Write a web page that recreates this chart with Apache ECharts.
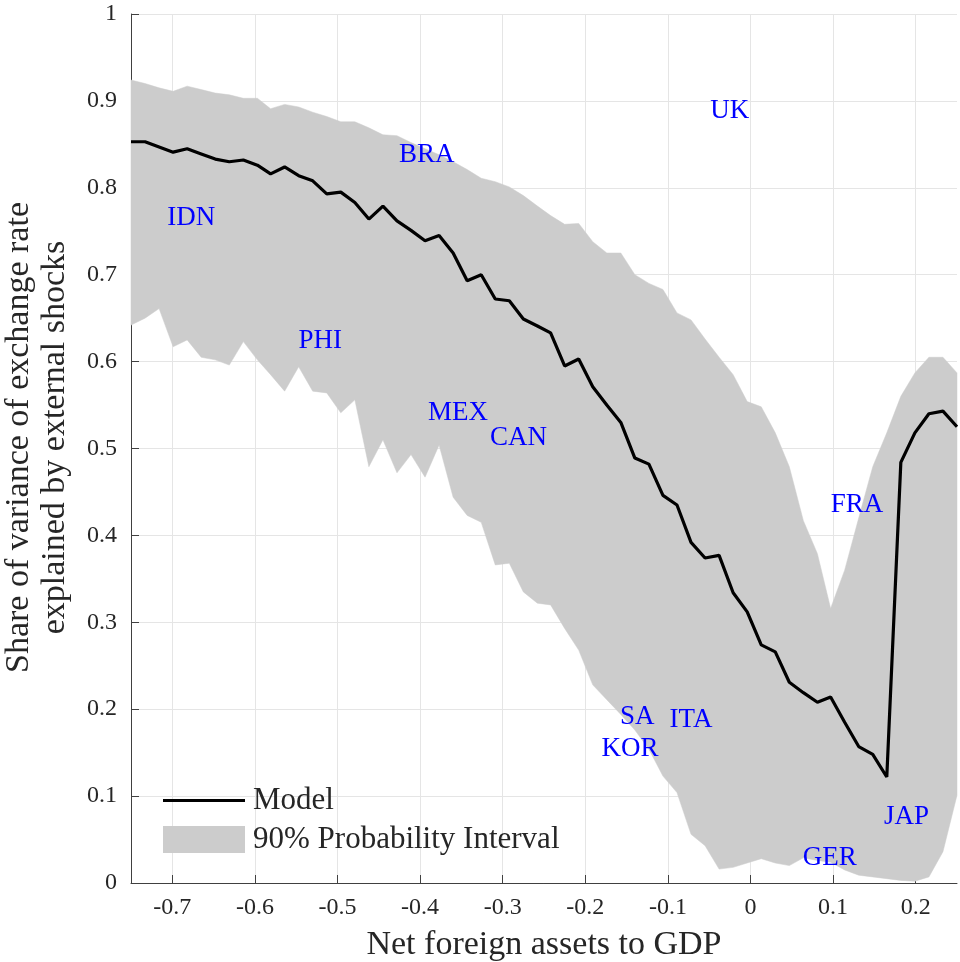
<!DOCTYPE html>
<html>
<head>
<meta charset="utf-8">
<script src="https://cdn.jsdelivr.net/npm/echarts@6/dist/echarts.min.js"></script>
<style>html,body{margin:0;padding:0;background:#fff;}#c{width:960px;height:962px;}</style>
</head>
<body>
<div id="c"></div>
<script>
// Net foreign assets to GDP (x positions of the estimates)
var nfa = [-0.750,-0.733,-0.716,-0.699,-0.682,-0.665,-0.648,-0.631,-0.614,-0.597,
           -0.581,-0.564,-0.547,-0.530,-0.513,-0.496,-0.479,-0.462,-0.445,-0.428,
           -0.411,-0.394,-0.377,-0.360,-0.343,-0.326,-0.309,-0.292,-0.275,-0.258,
           -0.242,-0.225,-0.208,-0.191,-0.174,-0.157,-0.140,-0.123,-0.106,-0.089,
           -0.072,-0.055,-0.038,-0.021,-0.004,0.013,0.030,0.047,0.064,0.081,
           0.097,0.114,0.131,0.148,0.165,0.182,0.199,0.216,0.233,0.250];
// Model share
var model = [0.853,0.853,0.847,0.841,0.845,0.839,0.833,0.830,0.832,0.826,
             0.816,0.824,0.814,0.808,0.793,0.795,0.783,0.764,0.779,0.762,
             0.751,0.739,0.745,0.725,0.693,0.700,0.672,0.670,0.649,0.641,
             0.633,0.595,0.603,0.571,0.550,0.530,0.489,0.482,0.446,0.435,
             0.392,0.374,0.377,0.334,0.312,0.274,0.266,0.231,0.219,0.208,
             0.214,0.185,0.157,0.148,0.122,0.484,0.518,0.540,0.543,0.525];
// 90% probability interval, upper bound
var upper = [0.924,0.920,0.915,0.911,0.917,0.913,0.909,0.907,0.903,0.903,
             0.891,0.896,0.893,0.887,0.882,0.876,0.876,0.869,0.861,0.860,
             0.852,0.845,0.838,0.830,0.821,0.811,0.807,0.801,0.791,0.779,
             0.768,0.758,0.759,0.738,0.725,0.725,0.700,0.690,0.683,0.656,
             0.648,0.626,0.605,0.585,0.554,0.548,0.518,0.479,0.417,0.379,
             0.316,0.360,0.420,0.479,0.518,0.560,0.587,0.605,0.605,0.587];
// 90% probability interval, lower bound
var lower = [0.642,0.650,0.661,0.617,0.625,0.605,0.602,0.596,0.623,0.602,
             0.585,0.566,0.594,0.566,0.564,0.541,0.556,0.479,0.510,0.472,
             0.493,0.467,0.504,0.444,0.423,0.415,0.366,0.368,0.335,0.322,
             0.320,0.293,0.268,0.228,0.211,0.194,0.176,0.154,0.123,0.104,
             0.056,0.043,0.016,0.018,0.023,0.028,0.023,0.020,0.029,0.026,
             0.024,0.015,0.009,0.007,0.005,0.003,0.002,0.007,0.036,0.101];
// Country labels
var countries = ['UK','BRA','IDN','PHI','MEX','CAN','FRA','SA','ITA','KOR','JAP','GER'];
var countryX  = [-0.025,-0.392,-0.677,-0.521,-0.354,-0.281,0.129,-0.137,-0.072,-0.146,0.189,0.096];
var countryY  = [0.889,0.838,0.765,0.624,0.541,0.512,0.435,0.191,0.188,0.154,0.076,0.029];
// Axis ticks
var xTicks = [-0.7,-0.6,-0.5,-0.4,-0.3,-0.2,-0.1,0,0.1,0.2];
var yTicks = [0,0.1,0.2,0.3,0.4,0.5,0.6,0.7,0.8,0.9,1];

var FONT = '"Liberation Serif", "Times New Roman", serif';
var TXT = '#262626';

var modelData = nfa.map(function(x,i){return [x, model[i]];});
var bandData = nfa.map(function(x,i){return [x, lower[i], upper[i]];});
var labelData = countries.map(function(n,i){return {name:n, value:[countryX[i], countryY[i]]};});

function fmt(v){
  var r = Math.round(v*10)/10;
  if (r === 0) return '0';
  if (r === 1) return '1';
  return r.toFixed(1);
}

var chart = echarts.init(document.getElementById('c'), null, {renderer:'canvas'});
chart.setOption({
  animation: false,
  backgroundColor: '#ffffff',
  grid: {left:131, right:3, top:14, bottom:79, containLabel:false, outerBoundsMode:'none'},
  xAxis: {
    type: 'value', min: -0.75, max: 0.25,
    customValues: xTicks,
    axisLine: {show:true, onZero:false, lineStyle:{color:'#404040', width:1}},
    axisTick: {show:true, inside:true, length:8, lineStyle:{color:'#404040'}, customValues: xTicks},
    axisLabel: {color:TXT, fontFamily:FONT, fontSize:24, margin:13, formatter: fmt, customValues: xTicks, showMinLabel:true, showMaxLabel:true},
    splitLine: {show:true, lineStyle:{color:'#e5e5e5', width:1}},
    name: 'Net foreign assets to GDP',
    nameLocation: 'middle', nameGap: 45,
    nameTextStyle: {color:TXT, fontFamily:FONT, fontSize:34}
  },
  yAxis: {
    type: 'value', min: 0, max: 1, interval: 0.1,
    axisLine: {show:true, onZero:false, lineStyle:{color:'#404040', width:1}},
    axisTick: {show:true, inside:true, length:8, lineStyle:{color:'#404040'}},
    axisLabel: {color:TXT, fontFamily:FONT, fontSize:24, margin:14, formatter: fmt},
    splitLine: {show:true, lineStyle:{color:'#e5e5e5', width:1}},
    name: 'Share of variance of exchange rate\nexplained by external shocks',
    nameLocation: 'middle', nameGap: 58, nameRotate: 90,
    nameTextStyle: {color:TXT, fontFamily:FONT, fontSize:34, lineHeight:36, padding:[0,0,0,22]}
  },
  legend: {
    data: [
      {name:'Model', icon:'path://M0,0L82,0L82,3.2L0,3.2Z', itemStyle:{color:'#000000'}},
      {name:'90% Probability Interval', icon:'rect', itemStyle:{color:'#cccccc'}}
    ],
    orient: 'vertical', left: 163, top: 785, padding: 0,
    itemWidth: 82, itemHeight: 27, itemGap: 8,
    textStyle: {color:TXT, fontFamily:FONT, fontSize:31, padding:[0,0,0,3]},
    selectedMode: false
  },
  series: [
    {
      name: '90% Probability Interval',
      type: 'custom',
      z: 1,
      itemStyle: {color:'#cccccc'},
      encode: {x:0, y:[1,2]},
      data: bandData,
      renderItem: function(params, api){
        if (params.dataIndex !== 0) return null;
        var pts = [];
        for (var i=0;i<bandData.length;i++) pts.push(api.coord([bandData[i][0], bandData[i][2]]));
        for (var j=bandData.length-1;j>=0;j--) pts.push(api.coord([bandData[j][0], bandData[j][1]]));
        return {type:'polygon', shape:{points:pts}, style:{fill:'#cccccc', stroke:'#cccccc', lineWidth:0.5}};
      }
    },
    {
      name: 'Model',
      type: 'line',
      z: 3,
      data: modelData,
      symbol: 'none',
      color: '#000000',
      lineStyle: {color:'#000000', width:3.2}
    },
    {
      name: 'labels',
      type: 'scatter',
      z: 4,
      symbolSize: 0,
      itemStyle: {opacity:1},
      data: labelData,
      label: {show:true, position:'inside', formatter:'{b}', color:'#0000ff', fontFamily:FONT, fontSize:27, opacity:1}
    }
  ]
});
</script>
</body>
</html>
